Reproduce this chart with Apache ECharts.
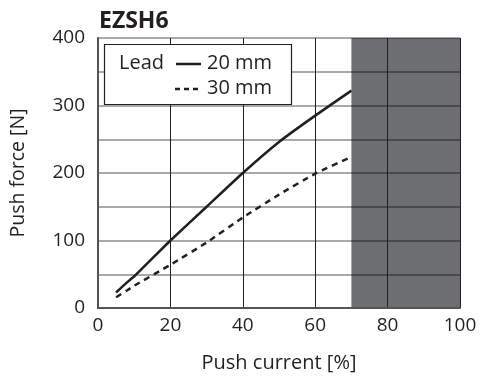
<!DOCTYPE html>
<html>
<head>
<meta charset="utf-8">
<script src="https://cdn.jsdelivr.net/npm/echarts@6/dist/echarts.min.js"></script>
<style>
  html, body { margin: 0; padding: 0; background: #fff; }
  #chart { width: 481px; height: 379px; }
</style>
</head>
<body>
<div id="chart"></div>
<script>
// Push force vs. push current, EZSH6
const current = [5, 8, 10, 20, 30, 40, 50, 60, 70];
const lead20 = [23, 38, 47, 100, 150, 200, 246, 285, 322];
const lead30 = [16, 26, 33, 64, 97, 134, 168, 199, 224];
const yTicks = [0, 100, 200, 300, 400];
const restrictedRange = [70, 100];

const ink = '#231f20';
const font = '"Open Sans", "Noto Sans", sans-serif';

const chart = echarts.init(document.getElementById('chart'));

chart.setOption({
  animation: false,
  backgroundColor: '#fff',
  textStyle: { fontFamily: font, color: ink },
  title: {
    text: 'EZSH6',
    left: 94, top: 5,
    textStyle: { fontFamily: font, fontWeight: 'bold', fontSize: 23, color: ink }
  },
  grid: { left: 97, top: 38, width: 363, height: 270, containLabel: false },
  xAxis: {
    type: 'value', min: 0, max: 100, interval: 20, z: 2,
    name: 'Push current [%]', nameLocation: 'middle', nameGap: 45,
    nameTextStyle: { fontFamily: font, fontSize: 20, color: ink },
    axisLine: { show: true, lineStyle: { color: '#555', width: 2 } },
    axisTick: { show: false },
    axisLabel: { fontFamily: font, fontSize: 19, color: ink, margin: 8 },
    splitLine: { show: true, lineStyle: { width: 1, color: ink } }
  },
  yAxis: {
    type: 'value', min: 0, max: 400, interval: 50, z: 2,
    name: 'Push force [N]', nameLocation: 'middle', nameGap: 70, nameRotate: 90,
    nameTextStyle: { fontFamily: font, fontSize: 19.5, color: ink },
    axisLine: { show: true, lineStyle: { color: '#555', width: 2 } },
    axisTick: { show: false },
    axisLabel: {
      fontFamily: font, fontSize: 19, color: ink, margin: 13,
      formatter: v => yTicks.includes(v) ? String(v) : ''
    },
    splitLine: { show: true, lineStyle: { width: 1.5, color: 'rgba(0,0,0,0.45)' } }
  },
  series: [
    {
      // shaded region beyond the rated current
      type: 'line', data: [], z: 0,
      markArea: {
        silent: true, z: 0,
        itemStyle: { color: '#6d6e71' },
        data: [[{ xAxis: restrictedRange[0] }, { xAxis: restrictedRange[1] }]]
      }
    },
    {
      name: '20 mm', type: 'line', z: 3, symbol: 'none', smooth: 0.15,
      data: current.map((c, i) => [c, lead20[i]]),
      lineStyle: { color: ink, width: 2.5, type: 'solid' }
    },
    {
      name: '30 mm', type: 'line', z: 3, symbol: 'none', smooth: 0.15,
      data: current.map((c, i) => [c, lead30[i]]),
      lineStyle: { color: ink, width: 2.5, type: [6, 5] }
    }
  ],
  graphic: [
    {
      type: 'rect', z: 10,
      shape: { x: 104.5, y: 44.5, width: 187, height: 60 },
      style: { fill: '#fff', stroke: ink, lineWidth: 1.2 }
    },
    {
      type: 'text', z: 11, left: 119, top: 53,
      style: { text: 'Lead', font: '20px ' + font, fill: ink }
    },
    {
      type: 'line', z: 11,
      shape: { x1: 176, y1: 64, x2: 201, y2: 64 },
      style: { stroke: ink, lineWidth: 2.5 }
    },
    {
      type: 'text', z: 11, left: 207, top: 53,
      style: { text: '20 mm', font: '20px ' + font, fill: ink }
    },
    {
      type: 'line', z: 11,
      shape: { x1: 175, y1: 89, x2: 202, y2: 89 },
      style: { stroke: ink, lineWidth: 2.5, lineDash: [5, 4] }
    },
    {
      type: 'text', z: 11, left: 207, top: 78,
      style: { text: '30 mm', font: '20px ' + font, fill: ink }
    }
  ]
});
</script>
</body>
</html>
